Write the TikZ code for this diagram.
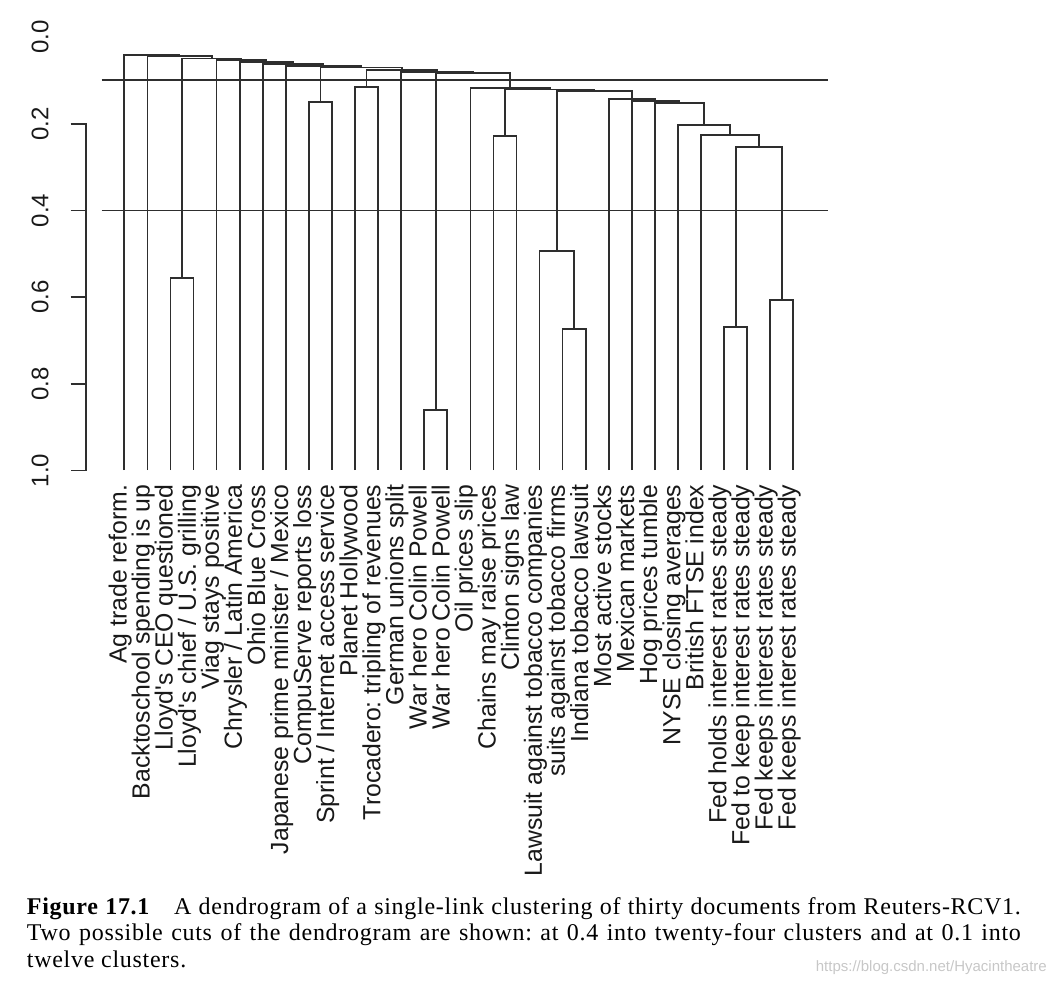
\documentclass[tikz,border=0pt]{standalone}
\usepackage{fontspec}
\setmainfont{Liberation Serif}
\newfontfamily\labfont{Liberation Sans}
\newfontfamily\capfont[LetterSpace=3.0]{Liberation Serif}
\usepackage{tikz}
\usepackage{xcolor}
\colorlet{mygray}{black!82}
\colorlet{mywater}{black!22}
\frenchspacing

\begin{document}
\begin{tikzpicture}[x=1pt, y=-1pt,
		br/.style = {line width = 1.7pt, color = mygray},
		lab/.style = {rotate = 90, anchor = mid east, inner sep = 0pt, text = black!90,
			font = \labfont\fontsize{24.8}{28}\selectfont},
		ax/.style = {rotate = 90, inner sep = 0pt, text = black!90,
			font = \labfont\fontsize{24}{28}\selectfont}]
		\useasboundingbox (0,0) rectangle (1056,987);

		% leaves
		\foreach \i in {0,...,29}
			\coordinate (l\i) at ({124.3+23.07*\i},470);

		% merges, name/left/right/height
		\foreach \n/\a/\b/\h in {p23/l2/l3/278, p89/l8/l9/101.7, p1011/l10/l11/86.7,
				p1314/l13/l14/410, p1617/l16/l17/136, p1920/l19/l20/329.3,
				t1820/l18/p1920/250.7, p2627/l26/l27/327.3, p2829/l28/l29/300,
				c26/p2627/p2829/147, c25/l25/c26/134.7, c24/l24/c25/125,
				c23/l23/c24/102.7, c22/l22/c23/100.7, c21/l21/c22/99.3,
				c18/t1820/c21/90.7, c16/p1617/c18/89.5, c15/l15/c16/88.3,
				c13/p1314/c15/73.3, c12/l12/c13/72, c10/p1011/c12/70,
				c8/p89/c10/67.5, c7/l7/c8/65.7, c6/l6/c7/64, c5/l5/c6/62.3,
				c4/l4/c5/60.3, c2/p23/c4/58.5, c1/l1/c2/56.2, root/l0/c1/55} {
			\path (\a) -- (\b) coordinate[midway] (\n-x);
			\coordinate (\n-h) at (0,\h);
			\coordinate (\n) at (\n-x |- \n-h);
			\draw[br] (\a) |- (\n) -| (\b);
		}

		% cuts at 0.1 and 0.4
		\draw[br] (101.7,80) -- (828.3,80);
		\draw[br] (101.7,210.5) -- (828.3,210.5);

		% axis
		\draw[br] (70.7,124) -- (85.7,124) -- (85.7,470.6) -- (70.7,470.6);
		\foreach \y in {210.6,297.3,383.9}
			\draw[br] (70.7,\y) -- (85.7,\y);
		\foreach \v/\y in {0.0/37.3, 0.2/124, 0.4/210.6, 0.6/297.3, 0.8/383.9, 1.0/470.6}
			\node[ax] (v\v) at (40,\y) {\v};

		% document titles
		\foreach \i/\t in {0/{Ag trade reform.}, 1/{Backtoschool spending is up},
				2/{Lloyd's CEO questioned}, 3/{Lloyd's chief / U.S. grilling},
				4/{Viag stays positive}, 5/{Chrysler / Latin America},
				6/{Ohio Blue Cross}, 7/{Japanese prime minister / Mexico},
				8/{CompuServe reports loss}, 9/{Sprint / Internet access service},
				10/{Planet Hollywood}, 11/{Trocadero: tripling of revenues},
				12/{German unions split}, 13/{War hero Colin Powell},
				14/{War hero Colin Powell}, 15/{Oil prices slip},
				16/{Chains may raise prices}, 17/{Clinton signs law},
				18/{Lawsuit against tobacco companies}, 19/{suits against tobacco firms},
				20/{Indiana tobacco lawsuit}, 21/{Most active stocks},
				22/{Mexican markets}, 23/{Hog prices tumble},
				24/{NYSE closing averages}, 25/{British FTSE index},
				26/{Fed holds interest rates steady}, 27/{Fed to keep interest rates steady},
				28/{Fed keeps interest rates steady}, 29/{Fed keeps interest rates steady}}
			\node[lab] (t\i) at ([yshift=-14.5pt]l\i) {\t};

		% caption
		\node[anchor = north west, inner sep = 0pt, text width = 994pt, align = justify,
			font = \capfont\fontsize{24}{26.7}\selectfont] (cap) at (26.7,897)
			{\textbf{Figure 17.1}\quad A dendrogram of a single-link clustering of thirty documents from Reuters-RCV1.\linebreak
			Two possible cuts of the dendrogram are shown: at 0.4 into twenty-four clusters and at 0.1 into\linebreak
			twelve clusters.};
		\node[anchor = east, inner sep = 0pt, text = mywater,
			font = \labfont\fontsize{15}{18}\selectfont] (wm) at (1047,968)
			{https://blog.csdn.net/Hyacintheatre};
	\end{tikzpicture}
\end{document}
